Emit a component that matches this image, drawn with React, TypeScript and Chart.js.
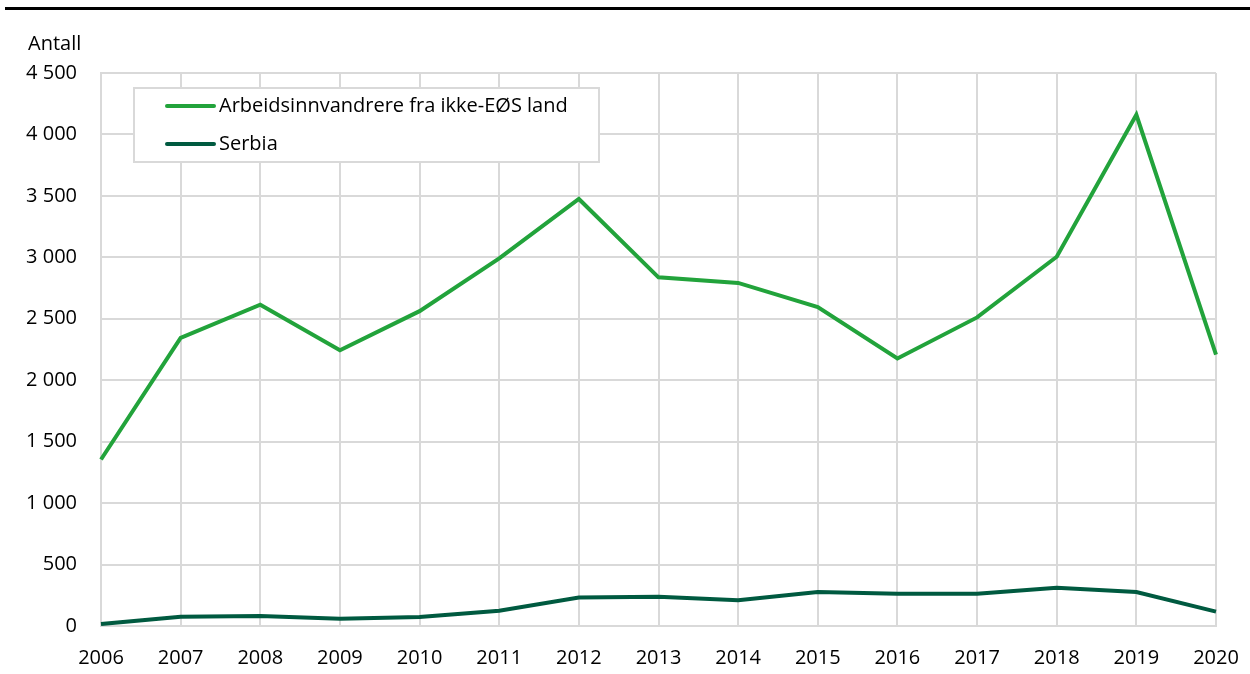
import React, { useEffect, useRef } from "react";
import { Chart, registerables } from "chart.js";

Chart.register(...registerables);

const years = ["2006", "2007", "2008", "2009", "2010", "2011", "2012", "2013", "2014", "2015", "2016", "2017", "2018", "2019", "2020"];
const ikkeEos = [1355, 2345, 2614, 2244, 2562, 2992, 3475, 2837, 2792, 2595, 2177, 2511, 3005, 4160, 2209];
const serbia = [16, 76, 81, 60, 73, 125, 231, 239, 209, 277, 263, 263, 312, 277, 117];
const seriesNames = ["Arbeidsinnvandrere fra ikke-EØS land", "Serbia"];
const yTitle = "Antall";

const FONT = "'Open Sans', 'Noto Sans', sans-serif";
const LIGHT = "#22a33b";
const DARK = "#005a40";
const GRID = "#d9d9d9";

const fmt = (v: number) => String(v).replace(/\B(?=(\d{3})+(?!\d))/g, " ");

const decorPlugin = {
  id: "decor",
  afterDraw(chart: any) {
    const ctx = chart.ctx as CanvasRenderingContext2D;
    ctx.save();
    ctx.fillStyle = "#000";
    ctx.fillRect(5, 7, 1245, 3);
    ctx.font = `20px ${FONT}`;
    ctx.fillStyle = "#000";
    ctx.textAlign = "left";
    ctx.textBaseline = "alphabetic";
    ctx.fillText(yTitle, 28, 50);
    const bx = 134, by = 88, bw = 465, bh = 74;
    ctx.fillStyle = "#fff";
    ctx.fillRect(bx, by, bw, bh);
    ctx.strokeStyle = GRID;
    ctx.lineWidth = 2;
    ctx.strokeRect(bx, by, bw, bh);
    const rows = [106, 144];
    chart.data.datasets.forEach((ds: any, i: number) => {
      const y = rows[i];
      ctx.beginPath();
      ctx.strokeStyle = ds.borderColor;
      ctx.lineWidth = 4;
      ctx.lineCap = "round";
      ctx.moveTo(167, y);
      ctx.lineTo(214, y);
      ctx.stroke();
      ctx.fillStyle = "#000";
      ctx.textBaseline = "middle";
      ctx.fillText(ds.label, 219, y);
    });
    ctx.restore();
  },
};

export default function App() {
  const ref = useRef<HTMLCanvasElement>(null);
  useEffect(() => {
    if (!ref.current) return;
    const chart = new Chart(ref.current, {
      type: "line",
      data: {
        labels: years,
        datasets: [
          { label: seriesNames[0], data: ikkeEos, borderColor: LIGHT, backgroundColor: LIGHT, borderWidth: 4, pointRadius: 0, tension: 0 },
          { label: seriesNames[1], data: serbia, borderColor: DARK, backgroundColor: DARK, borderWidth: 4, pointRadius: 0, tension: 0 },
        ],
      },
      options: {
        responsive: false,
        animation: false,
        layout: { padding: { left: 0, top: 73, right: 34, bottom: 0 } },
        plugins: { legend: { display: false }, tooltip: { enabled: false } },
        scales: {
          x: {
            offset: false,
            grid: { color: GRID, lineWidth: 2, drawTicks: false },
            border: { color: GRID, width: 2 },
            ticks: { color: "#000", font: { family: FONT, size: 20 }, padding: 20, maxRotation: 0, autoSkip: false },
            afterFit: (s: any) => { s.height = 48; s.paddingLeft = 0; s.paddingRight = 0; },
          },
          y: {
            min: 0,
            max: 4500,
            grid: { color: GRID, lineWidth: 2, drawTicks: false },
            border: { color: GRID, width: 2 },
            ticks: { stepSize: 500, color: "#000", font: { family: FONT, size: 20 }, padding: 24, callback: (v: any) => fmt(Number(v)) },
            afterFit: (s: any) => { s.width = 101; },
          },
        },
      },
      plugins: [decorPlugin],
    });
    return () => chart.destroy();
  }, []);
  return (
    <div style={{ position: "fixed", left: 0, top: 0, width: 1250, height: 674, background: "#fff" }}>
      <canvas ref={ref} width={1250} height={674} style={{ display: "block" }} />
    </div>
  );
}
